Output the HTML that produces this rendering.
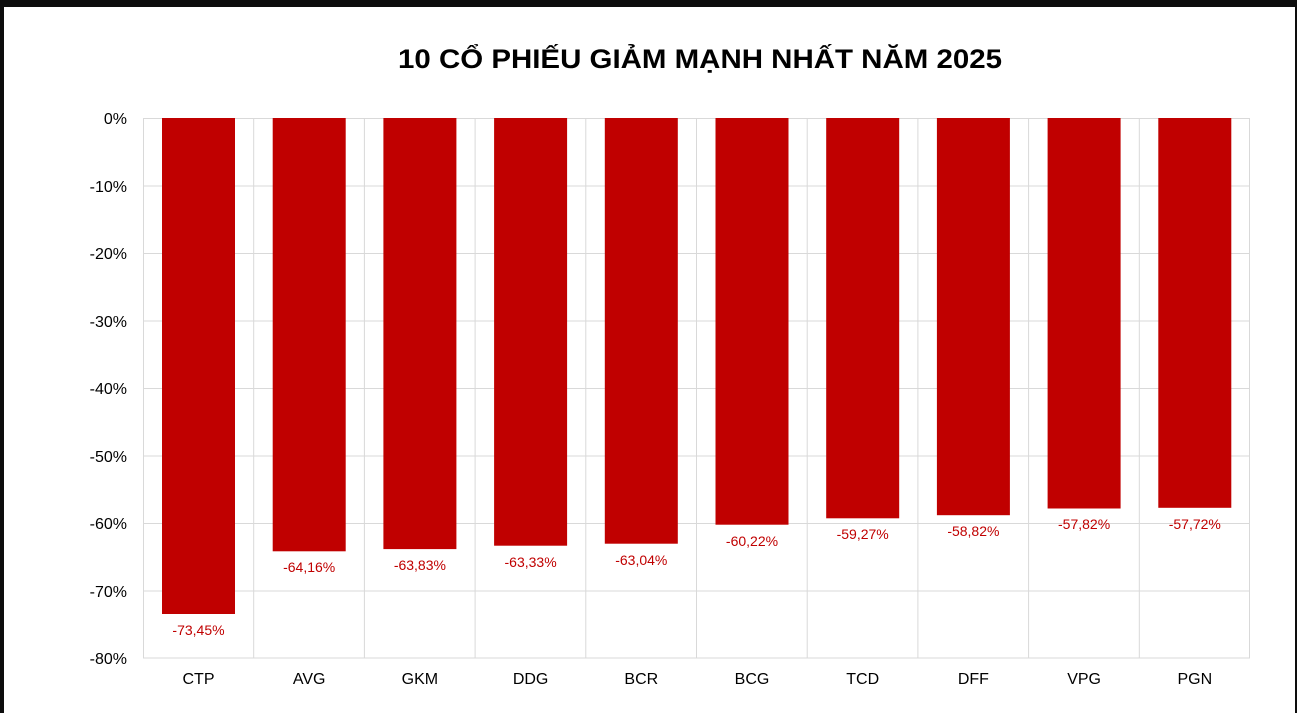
<!DOCTYPE html>
<html><head><meta charset="utf-8"><style>
html,body{margin:0;padding:0;background:#0d0d0d;}
svg{display:block;}
</style></head><body>
<svg width="1297" height="713" xmlns="http://www.w3.org/2000/svg" font-family="Liberation Sans, Arial, sans-serif">
<rect x="0" y="0" width="1297" height="713" fill="#0d0d0d"/>
<rect x="4" y="7" width="1291" height="706" fill="#ffffff"/>
<text x="700" y="68" text-anchor="middle" font-size="27" font-weight="bold" fill="#000" textLength="604" lengthAdjust="spacingAndGlyphs">10 CỔ PHIẾU GIẢM MẠNH NHẤT NĂM 2025</text>
<g stroke="#d9d9d9" stroke-width="1" fill="none">
<line x1="143" y1="118.5" x2="1250" y2="118.5"/>
<line x1="143" y1="186" x2="1250" y2="186"/>
<line x1="143" y1="253.5" x2="1250" y2="253.5"/>
<line x1="143" y1="321" x2="1250" y2="321"/>
<line x1="143" y1="388.5" x2="1250" y2="388.5"/>
<line x1="143" y1="456" x2="1250" y2="456"/>
<line x1="143" y1="523.5" x2="1250" y2="523.5"/>
<line x1="143" y1="591" x2="1250" y2="591"/>
<line x1="143" y1="658" x2="1250" y2="658"/>
<line x1="143.5" y1="118" x2="143.5" y2="658"/>
<line x1="253.7" y1="118" x2="253.7" y2="658"/>
<line x1="364.4" y1="118" x2="364.4" y2="658"/>
<line x1="475.1" y1="118" x2="475.1" y2="658"/>
<line x1="585.8" y1="118" x2="585.8" y2="658"/>
<line x1="696.5" y1="118" x2="696.5" y2="658"/>
<line x1="807.2" y1="118" x2="807.2" y2="658"/>
<line x1="917.9" y1="118" x2="917.9" y2="658"/>
<line x1="1028.6" y1="118" x2="1028.6" y2="658"/>
<line x1="1139.3" y1="118" x2="1139.3" y2="658"/>
<line x1="1249.5" y1="118" x2="1249.5" y2="658"/>
</g>
<g font-size="16" fill="#000" text-anchor="end">
<text x="127" y="124">0%</text>
<text x="127" y="192">-10%</text>
<text x="127" y="259">-20%</text>
<text x="127" y="327">-30%</text>
<text x="127" y="394">-40%</text>
<text x="127" y="462">-50%</text>
<text x="127" y="529">-60%</text>
<text x="127" y="597">-70%</text>
<text x="127" y="664">-80%</text>
</g>
<g fill="#c00000">
<rect x="162" y="118" width="73" height="496"/>
<rect x="272.7" y="118" width="73" height="433.3"/>
<rect x="383.4" y="118" width="73" height="431.1"/>
<rect x="494.1" y="118" width="73" height="427.7"/>
<rect x="604.8" y="118" width="73" height="425.7"/>
<rect x="715.5" y="118" width="73" height="406.7"/>
<rect x="826.2" y="118" width="73" height="400.3"/>
<rect x="936.9" y="118" width="73" height="397.2"/>
<rect x="1047.6" y="118" width="73" height="390.5"/>
<rect x="1158.3" y="118" width="73" height="389.8"/>
</g>
<g font-size="14" fill="#c00000" text-anchor="middle">
<text x="198.5" y="635">-73,45%</text>
<text x="309.2" y="572">-64,16%</text>
<text x="419.9" y="570">-63,83%</text>
<text x="530.6" y="567">-63,33%</text>
<text x="641.3" y="565">-63,04%</text>
<text x="752" y="546">-60,22%</text>
<text x="862.7" y="539">-59,27%</text>
<text x="973.4" y="536">-58,82%</text>
<text x="1084.1" y="529">-57,82%</text>
<text x="1194.8" y="529">-57,72%</text>
</g>
<g font-size="16" fill="#000" text-anchor="middle">
<text x="198.5" y="684">CTP</text>
<text x="309.2" y="684">AVG</text>
<text x="419.9" y="684">GKM</text>
<text x="530.6" y="684">DDG</text>
<text x="641.3" y="684">BCR</text>
<text x="752" y="684">BCG</text>
<text x="862.7" y="684">TCD</text>
<text x="973.4" y="684">DFF</text>
<text x="1084.1" y="684">VPG</text>
<text x="1194.8" y="684">PGN</text>
</g>
</svg>
</body></html>
